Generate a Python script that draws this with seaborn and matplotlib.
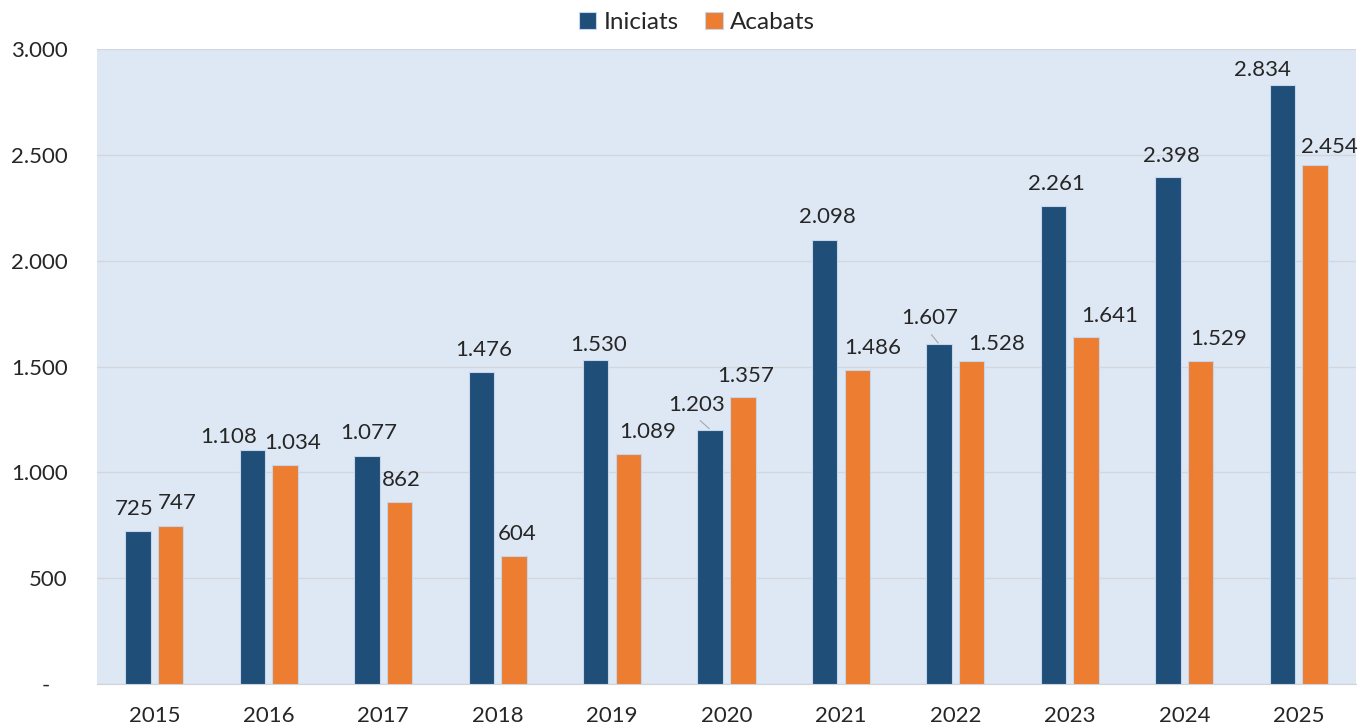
import pandas as pd
import seaborn as sns
import matplotlib.pyplot as plt
from matplotlib.ticker import FixedLocator

# Data
years = ['2015', '2016', '2017', '2018', '2019', '2020', '2021', '2022', '2023', '2024', '2025']
iniciats = [725, 1108, 1077, 1476, 1530, 1203, 2098, 1607, 2261, 2398, 2834]
acabats = [747, 1034, 862, 604, 1089, 1357, 1486, 1528, 1641, 1529, 2454]
series_names = ['Iniciats', 'Acabats']
y_ticks = [0, 500, 1000, 1500, 2000, 2500, 3000]

# label placement (pixels, relative to top centre of each bar), like the Excel original
off_ini = [(-4, 22), (-24, 13), (2, 23), (2, 22), (3, 15), (-14, 25),
           (3, 23), (-9, 26), (3, 22), (3, 21), (-20, 15)]
off_aca = [(7, 23), (8, 22), (2, 22), (3, 22), (19, 22), (3, 21),
           (15, 22), (25, 17), (23, 21), (18, 22), (14, 18)]
leader_ini = {5: 0.45, 7: 0.43}  # labels with a small leader line

df = pd.DataFrame({
    'year': years * 2,
    'value': iniciats + acabats,
    'serie': [series_names[0]] * len(years) + [series_names[1]] * len(years),
})

def fmt(v):
    return f"{int(v):,}".replace(",", ".")

sns.set_style("white")
plt.rcParams['font.family'] = ['Lato', 'DejaVu Sans']
txt_col = '#262626'
fs = 16

fig = plt.figure(figsize=(13.59, 7.26), dpi=100)
ax = fig.add_axes([0.0714, 0.0579, 0.9264, 0.874])
ax.set_facecolor('#dee8f4')

sns.barplot(data=df, x='year', y='value', hue='serie', ax=ax,
            palette=['#1f4e79', '#ed7d31'], width=0.57, gap=0.22,
            edgecolor='#c6d6ea', linewidth=0.8, saturation=1, zorder=3)

ax.set_xlim(-0.5, len(years) - 0.5)
ax.set_ylim(0, 3000)
ax.yaxis.set_major_locator(FixedLocator(y_ticks))
ax.set_yticklabels(['-   '] + [fmt(t) for t in y_ticks[1:]])
ax.grid(axis='y', color='#d3d7dd', linewidth=1, zorder=0)
ax.set_axisbelow(True)
ax.tick_params(axis='y', length=0, pad=21, labelsize=fs, labelcolor=txt_col)
ax.tick_params(axis='x', length=0, pad=16, labelsize=fs, labelcolor=txt_col)
ax.set_xlabel('')
ax.set_ylabel('')
for s in ['left', 'right', 'top']:
    ax.spines[s].set_visible(False)
ax.spines['bottom'].set_color('#d0d4d9')

# value labels
for cont, offs, is_ini in [(ax.containers[0], off_ini, True), (ax.containers[1], off_aca, False)]:
    for i, bar in enumerate(cont):
        xc = bar.get_x() + bar.get_width() / 2
        h = bar.get_height()
        dx, dy = offs[i]
        kw = {}
        if is_ini and i in leader_ini:
            kw['arrowprops'] = dict(arrowstyle='-', color='#a6a6a6', lw=0.8,
                                    shrinkA=3, shrinkB=1, relpos=(leader_ini[i], 0))
        ax.annotate(fmt(h), xy=(xc, h), xytext=(dx, dy), textcoords='offset pixels',
                    ha='center', va='center', fontsize=fs, color=txt_col, zorder=5, **kw)

sns.move_legend(ax, 'center', bbox_to_anchor=(0.4766, 1.0418), ncol=2, frameon=False,
                title=None, fontsize=17.5, handlelength=0.7, handleheight=0.7,
                handletextpad=0.3, columnspacing=1.1)
for t in ax.get_legend().get_texts():
    t.set_color(txt_col)

fig.savefig('out.png', dpi=100)
